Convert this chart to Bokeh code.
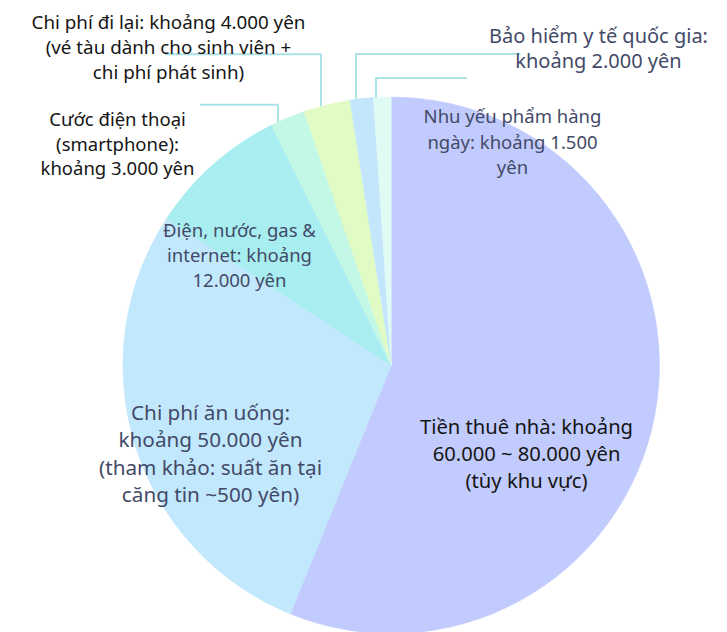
import math
from bokeh.plotting import figure
from bokeh.models import Range1d, ColumnDataSource
from bokeh.embed import file_html
from bokeh.resources import INLINE
from bokeh.core.properties import value

# ---------------- data ----------------
categories = [
    "Tiền thuê nhà",
    "Chi phí ăn uống",
    "Điện, nước, gas & internet",
    "Cước điện thoại",
    "Chi phí đi lại",
    "Bảo hiểm y tế quốc gia",
    "Nhu yếu phẩm hàng ngày",
]
amounts = [80000, 40000, 12000, 3000, 4000, 2000, 1500]
labels = [
    "Tiền thuê nhà: khoảng\n60.000 ~ 80.000 yên\n(tùy khu vực)",
    "Chi phí ăn uống:\nkhoảng 50.000 yên\n(tham khảo: suất ăn tại\ncăng tin ~500 yên)",
    "Điện, nước, gas &\ninternet: khoảng\n12.000 yên",
    "Cước điện thoại\n(smartphone):\nkhoảng 3.000 yên",
    "Chi phí đi lại: khoảng 4.000 yên\n(vé tàu dành cho sinh viên +\nchi phí phát sinh)",
    "Bảo hiểm y tế quốc gia:\nkhoảng 2.000 yên",
    "Nhu yếu phẩm hàng\nngày: khoảng 1.500\nyên",
]
colors = ["#c1cbfd", "#c2e8fd", "#a8eef0", "#c3f7e6", "#e0fcc4", "#c4e6fd", "#e0fbf3"]

# ---------------- layout (page pixel coords) ----------------
PAGE_H = 632
W, H = 727, 632
CX, CY, R = 390.7, 364.8, 268.3

def py(Y):
    return PAGE_H - Y

# label placement: (center x, first line y, line spacing, font size, color)
label_pos = [
    (526, 425.0, 27.3, 20.2, "#151515"),
    (210, 411.5, 27.4, 20.7, "#434a68"),
    (239, 229.0, 25.0, 18.5, "#434a68"),
    (117, 118.0, 24.6, 18.5, "#151515"),
    (168, 21.5, 24.8, 18.8, "#151515"),
    (598, 34.5, 25.0, 20.0, "#434a68"),
    (512, 115.0, 25.5, 18.5, "#434a68"),
]
# leader lines: slice index -> (vertical x, elbow y, end x)
leaders = {3: (277.5, 104.3, 199.5), 4: (320.5, 53.8, 164.5),
           5: (355.5, 53.5, 520), 6: (375.5, 77.5, 466)}

p = figure(width=W, height=H, output_backend="svg", toolbar_location=None,
           x_range=Range1d(0, W), y_range=Range1d(PAGE_H - H, PAGE_H),
           min_border=0)
p.axis.visible = False
p.grid.visible = False
p.outline_line_color = None
p.background_fill_color = "white"
p.border_fill_color = "white"

total = sum(amounts)
starts, ends = [], []
cum = 0.0
for a in amounts:
    s = math.pi / 2 - 2 * math.pi * cum / total
    cum += a
    e = math.pi / 2 - 2 * math.pi * cum / total
    starts.append(s)
    ends.append(e)

src = ColumnDataSource(dict(x=[CX] * len(amounts), y=[py(CY)] * len(amounts),
                            start=starts, end=ends, color=colors, cat=categories))
p.wedge(x="x", y="y", radius=R, start_angle="start", end_angle="end",
        direction="clock", fill_color="color", line_color="color", line_width=0.5,
        source=src)

# leader lines (start on the pie rim)
for i, (vx, ey, ex) in leaders.items():
    sy = CY - math.sqrt(R * R - (vx - CX) ** 2)
    p.line([vx, vx, ex], [py(sy), py(ey), py(ey)], line_color="#a9e3e8", line_width=2)

# labels
for lab, (lx, ly, sp, fs, col) in zip(labels, label_pos):
    lines = lab.split("\n")
    p.text(x=[lx] * len(lines), y=[py(ly + k * sp) for k in range(len(lines))],
           text=lines, text_align="center", text_baseline="middle",
           text_font=value("Noto Sans"), text_font_size=f"{fs}px", text_color=col)

open("out.html", "w").write(file_html(p, INLINE))
